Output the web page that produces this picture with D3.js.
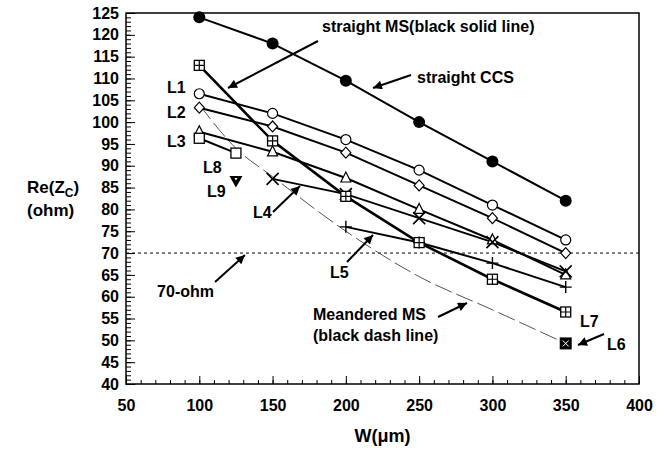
<!DOCTYPE html>
<html>
<head>
<meta charset="utf-8">
<script src="https://cdn.jsdelivr.net/npm/d3@7"></script>
<style>
  body { margin: 0; background: #fff; }
  text { font-family: "Liberation Sans", Arial, sans-serif; font-weight: bold; fill: #000; }
</style>
</head>
<body>
<svg id="chart" width="668" height="452"></svg>
<script>
// widths (um) and Re(Zc) values
var widths = [100, 150, 200, 250, 300, 350];
var ccs = [124, 118, 109.5, 100, 91, 82];
var l1 = [106.5, 102, 96, 89, 81, 73];
var l2 = [103.3, 99, 93, 85.5, 78, 70];
var l3 = [97.8, 93.2, 87.2, 80, 73, 65];
var l4W = [150, 200, 250, 300, 350];
var l4 = [87, 83.5, 78, 72.5, 65.8];
var l5W = [200, 250, 300, 350];
var l5 = [76, 72.4, 67.7, 62.2];
var l7 = [113, 95.7, 83, 72.4, 64, 56.5];
var l8W = [100, 125];
var l8 = [96.3, 92.9];
var l9W = [125];
var l9 = [86.5];
var l6W = [350];
var l6 = [49.3];
var meanderW = [100, 125, 150, 200, 250, 300, 350];
var meander = [104, 94, 87.5, 75, 64.6, 57, 49.3];
var ref70 = 70;

var xTicks = [50, 100, 150, 200, 250, 300, 350, 400];
var yTicks = d3.range(40, 126, 5);

var svg = d3.select('#chart');
var plotL = 126, plotR = 639, plotT = 13, plotB = 384;

var x = d3.scaleLinear().domain([50, 400]).range([plotL, plotR]);
var y = d3.scaleLinear().domain([40, 125]).range([plotB, plotT]);

// minor ticks
svg.append('g').attr('transform', 'translate(0,' + plotB + ')')
  .call(d3.axisBottom(x).tickValues(d3.range(50, 401, 10)).tickSize(-4).tickFormat(''))
  .call(g => g.select('.domain').remove());
svg.append('g').attr('transform', 'translate(' + plotL + ',0)')
  .call(d3.axisLeft(y).tickValues(d3.range(40, 126, 1)).tickSize(-5).tickFormat(''))
  .call(g => g.select('.domain').remove());

// major ticks + labels
var xAxis = svg.append('g').attr('transform', 'translate(0,' + plotB + ')')
  .call(d3.axisBottom(x).tickValues(xTicks).tickSize(-8).tickPadding(16));
xAxis.select('.domain').remove();
xAxis.selectAll('text').style('font-size', '16px').style('font-family', '"Liberation Sans", Arial, sans-serif');

var yAxis = svg.append('g').attr('transform', 'translate(' + plotL + ',0)')
  .call(d3.axisLeft(y).tickValues(yTicks).tickSize(-9).tickPadding(7));
yAxis.select('.domain').remove();
yAxis.selectAll('text').style('font-size', '16px').style('font-family', '"Liberation Sans", Arial, sans-serif');
svg.selectAll('.tick line').attr('stroke', '#000').attr('stroke-width', 1);

// frame
svg.append('rect').attr('x', plotL).attr('y', plotT).attr('width', plotR - plotL).attr('height', plotB - plotT)
  .attr('fill', 'none').attr('stroke', '#000').attr('stroke-width', 1.5);

// 70 ohm reference
svg.append('line').attr('x1', x(50)).attr('x2', x(400)).attr('y1', y(ref70)).attr('y2', y(ref70))
  .attr('stroke', '#000').attr('stroke-width', 1).attr('stroke-dasharray', '3,3');

// meandered MS dash curve
var curve = d3.line().x(d => x(d[0])).y(d => y(d[1])).curve(d3.curveMonotoneX);
svg.append('path').datum(d3.zip(meanderW, meander)).attr('d', curve)
  .attr('fill', 'none').attr('stroke', '#555').attr('stroke-width', 1).attr('stroke-dasharray', '18,5');

var straight = d3.line().x(d => x(d[0])).y(d => y(d[1]));
var series = [
  { w: widths, v: ccs, m: 'dot', lw: 2 },
  { w: widths, v: l1, m: 'circle', lw: 2 },
  { w: widths, v: l2, m: 'diamond', lw: 2 },
  { w: widths, v: l3, m: 'triangle', lw: 2 },
  { w: l4W, v: l4, m: 'x', lw: 2 },
  { w: l5W, v: l5, m: 'plus', lw: 2 },
  { w: widths, v: l7, m: 'sqplus', lw: 2.6 },
  { w: l8W, v: l8, m: 'square', lw: 2 },
  { w: l9W, v: l9, m: 'tridown', lw: 2 },
  { w: l6W, v: l6, m: 'sqx', lw: 2 }
];

series.forEach(function(s) {
  var pts = d3.zip(s.w, s.v);
  if (pts.length > 1) {
    svg.append('path').datum(pts).attr('d', straight)
      .attr('fill', 'none').attr('stroke', '#000').attr('stroke-width', s.lw);
  }
});

var drawMarker = function(type, cx, cy) {
  var g = svg.append('g').attr('transform', 'translate(' + cx + ',' + cy + ')');
  if (type === 'dot') {
    g.append('circle').attr('r', 6).attr('fill', '#000');
  } else if (type === 'circle') {
    g.append('circle').attr('r', 5).attr('fill', '#fff').attr('stroke', '#000').attr('stroke-width', 1.2);
  } else if (type === 'diamond') {
    g.append('path').attr('d', 'M0,-5.5L5,0L0,5.5L-5,0Z').attr('fill', '#fff').attr('stroke', '#000').attr('stroke-width', 1.2);
  } else if (type === 'triangle') {
    g.append('path').attr('d', 'M0,-6L5,4L-5,4Z').attr('fill', '#fff').attr('stroke', '#000').attr('stroke-width', 1.2);
  } else if (type === 'tridown') {
    g.append('path').attr('d', 'M-6.5,-5L6.5,-5L0,6.5Z').attr('fill', '#000');
    g.append('path').attr('d', 'M-1.5,-3L1.5,-3L0,-0.5Z').attr('fill', '#fff');
  } else if (type === 'x') {
    g.append('path').attr('d', 'M-6,-6L6,6M-6,6L6,-6').attr('stroke', '#000').attr('stroke-width', 1.6);
  } else if (type === 'plus') {
    g.append('path').attr('d', 'M-6,0L6,0M0,-6L0,6').attr('stroke', '#000').attr('stroke-width', 1.4);
  } else if (type === 'square') {
    g.append('rect').attr('x', -5).attr('y', -5).attr('width', 10).attr('height', 10)
      .attr('fill', '#fff').attr('stroke', '#000').attr('stroke-width', 1.3);
  } else if (type === 'sqplus') {
    g.append('rect').attr('x', -5).attr('y', -5).attr('width', 10).attr('height', 10)
      .attr('fill', '#fff').attr('stroke', '#000').attr('stroke-width', 1.3);
    g.append('path').attr('d', 'M-5,0L5,0M0,-5L0,5').attr('stroke', '#000').attr('stroke-width', 1.2);
  } else if (type === 'sqx') {
    g.append('rect').attr('x', -6).attr('y', -6).attr('width', 12).attr('height', 12).attr('fill', '#000');
    g.append('path').attr('d', 'M-3,-3L3,3M-3,3L3,-3').attr('stroke', '#fff').attr('stroke-width', 1);
  }
};

series.forEach(function(s) {
  d3.zip(s.w, s.v).forEach(function(p) { drawMarker(s.m, x(p[0]), y(p[1])); });
});

// annotations
svg.append('defs').append('marker').attr('id', 'arrow').attr('viewBox', '0 0 10 10')
  .attr('refX', 10).attr('refY', 5).attr('markerWidth', 11).attr('markerHeight', 9)
  .attr('markerUnits', 'userSpaceOnUse').attr('orient', 'auto')
  .append('path').attr('d', 'M0,0L10,5L0,10Z').attr('fill', '#000');

var arrows = [
  [318, 41, 228, 88],
  [411, 75, 373, 88],
  [273, 212, 300, 186],
  [347, 262, 373, 235],
  [215, 282, 245, 255],
  [438, 317, 467, 303],
  [604, 334, 578, 345]
];
arrows.forEach(function(a) {
  svg.append('line').attr('x1', a[0]).attr('y1', a[1]).attr('x2', a[2]).attr('y2', a[3])
    .attr('stroke', '#000').attr('stroke-width', 2).attr('marker-end', 'url(#arrow)');
});

var labels = [
  ['straight MS(black solid line)', 322, 32, 'start'],
  ['straight CCS', 417, 83, 'start'],
  ['L1', 167, 93, 'start'],
  ['L2', 167, 118, 'start'],
  ['L3', 167, 147, 'start'],
  ['L8', 203, 173, 'start'],
  ['L9', 207, 197, 'start'],
  ['L4', 253, 218, 'start'],
  ['L5', 330, 278, 'start'],
  ['70-ohm', 214, 297, 'end'],
  ['Meandered MS', 313, 320, 'start'],
  ['(black dash line)', 313, 341, 'start'],
  ['L7', 580, 327, 'start'],
  ['L6', 607, 350, 'start']
];
labels.forEach(function(t) {
  svg.append('text').attr('x', t[1]).attr('y', t[2]).attr('text-anchor', t[3])
    .style('font-size', '16px').text(t[0]);
});

// axis titles
var yt = svg.append('text').attr('x', 27).attr('y', 193).style('font-size', '17px');
yt.append('tspan').text('Re(Z');
yt.append('tspan').attr('dy', 4).style('font-size', '12px').text('C');
yt.append('tspan').attr('dy', -4).text(')');
svg.append('text').attr('x', 27).attr('y', 216).style('font-size', '17px').text('(ohm)');
svg.append('text').attr('x', (plotL + plotR) / 2).attr('y', 442).attr('text-anchor', 'middle')
  .style('font-size', '18px').text('W(\u03bcm)');
</script>
</body>
</html>
